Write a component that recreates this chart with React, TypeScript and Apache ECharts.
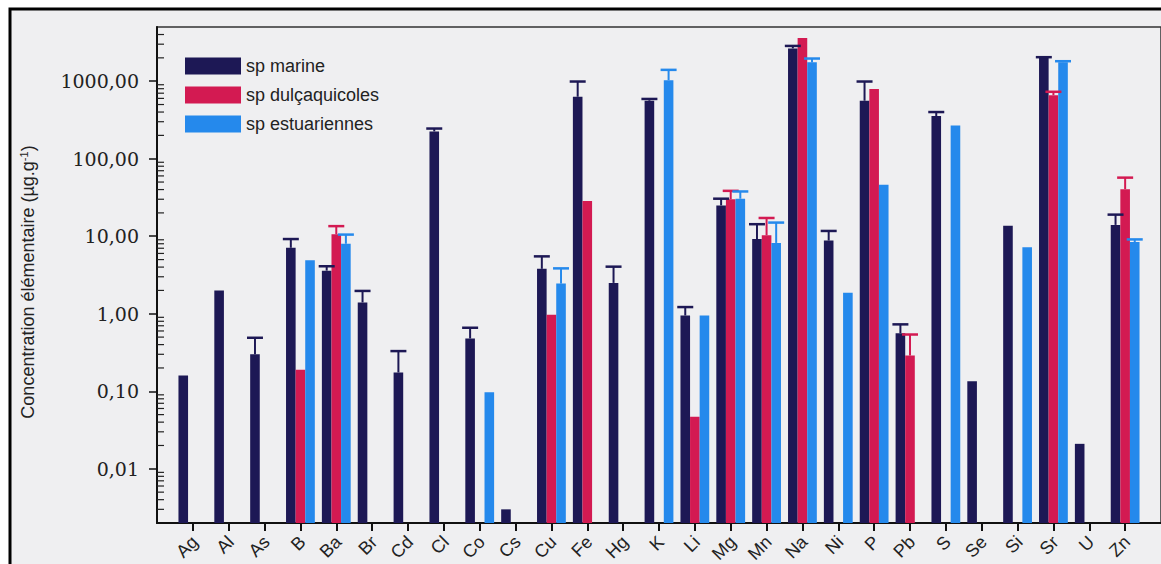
import React, { useEffect, useRef } from 'react';
import * as echarts from 'echarts';

const elements = ['Ag', 'Al', 'As', 'B', 'Ba', 'Br', 'Cd', 'Cl', 'Co', 'Cs', 'Cu', 'Fe', 'Hg', 'K', 'Li', 'Mg', 'Mn', 'Na', 'Ni', 'P', 'Pb', 'S', 'Se', 'Si', 'Sr', 'U', 'Zn'];
const seriesNames = ['sp marine', 'sp dulçaquicoles', 'sp estuariennes'];
const seriesColors = ['#1d1855', '#d31a52', '#2589ec'];

const marine = [0.16, 2.0, 0.3, 7.1, 3.6, 1.4, 0.175, 225, 0.48, 0.003, 3.8, 630, 2.5, 560, 0.95, 25, 9.2, 2650, 8.8, 560, 0.56, 355, 0.135, 13.7, 2000, 0.021, 14];
const marineErr = [null, null, 0.49, 9.2, 4.1, 1.97, 0.33, 245, 0.66, null, 5.5, 990, 4.05, 590, 1.22, 30.5, 14.3, 2850, 11.7, 990, 0.73, 400, null, null, 2040, null, 19];
const dulc = [null, null, null, 0.19, 10.6, null, null, null, null, null, 0.97, 28.5, null, null, 0.047, 30, 10.3, 3600, null, 790, 0.29, null, null, null, 660, null, 40.5];
const dulcErr = [null, null, null, null, 13.5, null, null, null, null, null, null, null, null, null, null, 38.5, 17.2, null, null, null, 0.54, null, null, null, 730, null, 57];
const estu = [null, null, null, 4.9, 8.0, null, null, null, 0.097, null, 2.45, null, null, 1030, 0.95, 30.5, 8.2, 1750, 1.86, 46, null, 268, null, 7.2, 1760, null, 8.4];
const estuErr = [null, null, null, null, 10.5, null, null, null, null, null, 3.85, null, null, 1400, null, 37.8, 15, 1960, null, null, null, null, null, null, 1810, null, 9.1];

const yMin = 0.002;
const yMax = 5000;
const minorDecades = [0.001, 0.01, 0.1, 1, 10, 100, 1000];
const minorMultipliers = [2, 3, 4, 5, 6, 7, 8, 9];

const values = [marine, dulc, estu];
const errors = [marineErr, dulcErr, estuErr];

const BAR_W = 9.6;
const SANS = 'Liberation Sans, Arial, sans-serif';

export default function App() {
  const ref = useRef<HTMLDivElement>(null);
  useEffect(() => {
    if (!ref.current) return;
    const chart = echarts.init(ref.current, undefined, { renderer: 'svg' });

    const axisData = ['', ...elements, ''];
    const minorTicks: number[] = [];
    minorDecades.forEach((d) => minorMultipliers.forEach((m) => {
      const v = +(d * m).toPrecision(6);
      if (v > yMin && v < yMax) minorTicks.push(v);
    }));

    const barSeries = values.map((arr, si) => ({
      type: 'bar',
      name: seriesNames[si],
      data: ['-', ...arr.map((v) => (v == null ? '-' : v)), '-'],
      barWidth: BAR_W,
      barGap: '0%',
      itemStyle: { color: seriesColors[si] },
      z: 2,
      silent: true,
    }));

    const errSeries = errors.map((arr, si) => {
      const data: any[] = [];
      arr.forEach((e, i) => {
        if (e != null && values[si][i] != null) data.push([i + 1, values[si][i], e]);
      });
      const offset = (si - 1) * BAR_W;
      const color = seriesColors[si];
      return {
        type: 'custom',
        name: seriesNames[si] + ' (erreur)',
        data,
        encode: { x: 0, y: [1, 2] },
        z: 3,
        silent: true,
        renderItem: (params: any, api: any) => {
          const idx = api.value(0);
          const p0 = api.coord([idx, api.value(1)]);
          const p1 = api.coord([idx, api.value(2)]);
          const cx = p0[0] + offset;
          return {
            type: 'group',
            children: [
              { type: 'line', shape: { x1: cx, y1: p0[1], x2: cx, y2: p1[1] }, style: { stroke: color, lineWidth: 2 } },
              { type: 'line', shape: { x1: cx - 8, y1: p1[1], x2: cx + 8, y2: p1[1] }, style: { stroke: color, lineWidth: 2.5 } },
            ],
          };
        },
      };
    });

    const minorSeries = {
      type: 'custom',
      name: 'minor',
      data: minorTicks.map((v) => [0, v]),
      encode: { x: 0, y: 1 },
      silent: true,
      z: 5,
      clip: false,
      renderItem: (params: any, api: any) => {
        const y = api.coord([0, api.value(1)])[1];
        const x = params.coordSys.x;
        return { type: 'line', shape: { x1: x, y1: y, x2: x + 7, y2: y }, style: { stroke: '#222', lineWidth: 1.2 } };
      },
    };

    const labelSeries = {
      type: 'custom',
      name: 'labels',
      data: elements.map((_, i) => [i + 1, yMin]),
      encode: { x: 0, y: 1 },
      silent: true,
      z: 5,
      clip: false,
      renderItem: (params: any, api: any) => {
        const idx = api.value(0);
        const p = api.coord([idx, yMin]);
        return {
          type: 'text',
          x: p[0] + 2,
          y: p[1] + 16,
          rotation: Math.PI / 4,
          style: {
            text: elements[idx - 1],
            x: 0,
            y: 0,
            align: 'right',
            verticalAlign: 'middle',
            fontSize: 18,
            fontFamily: SANS,
            fill: '#222',
          },
        };
      },
    };

    chart.setOption({
      animation: false,
      backgroundColor: '#ffffff',
      graphic: [
        {
          type: 'rect',
          z: -10,
          shape: { x: 10, y: 9, width: 1300, height: 700 },
          style: { fill: '#efeff1', stroke: '#000', lineWidth: 3 },
          silent: true,
        },
      ],
      legend: {
        data: seriesNames.map((n) => ({ name: n, icon: 'rect' })),
        orient: 'vertical',
        left: 185,
        top: 57,
        itemWidth: 56,
        itemHeight: 17,
        itemGap: 11,
        padding: 0,
        selectedMode: false,
        textStyle: { fontSize: 18, color: '#222', fontFamily: SANS },
      },
      grid: {
        left: 157,
        top: 27,
        right: -2,
        bottom: 41,
        show: true,
        borderColor: '#333',
        borderWidth: 1.5,
        backgroundColor: 'transparent',
      },
      xAxis: {
        type: 'category',
        data: axisData,
        boundaryGap: false,
        axisLine: { lineStyle: { color: '#111', width: 2 } },
        axisTick: {
          length: 8,
          interval: (index: number, value: string) => value !== '',
          lineStyle: { color: '#111', width: 2 },
        },
        axisLabel: { show: false },
        splitLine: { show: false },
      },
      yAxis: {
        type: 'log',
        logBase: 10,
        min: yMin,
        max: yMax,
        startValue: yMin,
        name: 'Concentration élémentaire (µg.g{sup|-1})',
        nameLocation: 'middle',
        nameRotate: 90,
        nameGap: 120,
        nameTextStyle: {
          fontSize: 18,
          color: '#222',
          fontFamily: SANS,
          padding: [0, 14, 0, 0],
          rich: { sup: { fontSize: 11, padding: [0, 0, 8, 0], color: '#222' } },
        },
        axisLine: { show: true, lineStyle: { color: '#111', width: 2 } },
        axisTick: { show: true, length: 8, lineStyle: { color: '#111', width: 1.5 } },
        axisLabel: {
          margin: 18,
          fontSize: 19,
          color: '#222',
          fontFamily: 'DejaVu Serif, serif',
          showMinLabel: false,
          showMaxLabel: false,
          formatter: (v: number) => {
            const l = Math.log10(v);
            if (Math.abs(l - Math.round(l)) > 1e-6) return '';
            return v.toFixed(2).replace('.', ',');
          },
        },
        splitLine: { show: false },
      },
      series: [...barSeries, ...errSeries, minorSeries, labelSeries],
    });
    return () => chart.dispose();
  }, []);
  return <div ref={ref} style={{ position: 'absolute', left: 0, top: 0, width: 1161, height: 564 }} />;
}
